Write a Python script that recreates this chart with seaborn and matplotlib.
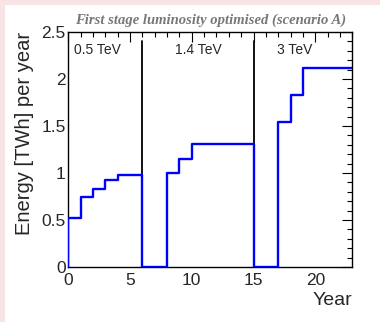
import matplotlib
matplotlib.use("Agg")
import matplotlib.pyplot as plt
import seaborn as sns
import pandas as pd
from matplotlib.ticker import MultipleLocator
from matplotlib.patches import Rectangle

# Data (step function, steps-post)
years = [0, 0, 1, 2, 3, 4, 5, 6, 7, 8, 9, 10, 11, 12, 13, 14, 15, 16, 17, 18, 19, 20, 21, 22, 23]
energy = [0.0, 0.52, 0.75, 0.83, 0.93, 0.98, 0.98, 0.0, 0.0, 1.00, 1.15, 1.31, 1.31, 1.31, 1.31, 1.31,
          0.0, 0.0, 1.54, 1.83, 2.12, 2.12, 2.12, 2.12, 2.12]
stage_bounds = [6, 15]
stage_labels = ["0.5 TeV", "1.4 TeV", "3 TeV"]
stage_label_x = [0.45, 8.65, 16.9]

df = pd.DataFrame({"Year": years, "Energy": energy})

sns.set_style("white")
plt.rcParams['font.family'] = ['Liberation Sans', 'DejaVu Sans']

fig = plt.figure(figsize=(3.8, 3.22), dpi=100)
fig.patch.set_facecolor("#f8e4e4")
fig.patches.append(Rectangle((5 / 380, 0), 1, 1 - 5 / 322, transform=fig.transFigure,
                             facecolor="white", edgecolor="none", zorder=-10))
ax = fig.add_axes([68.3 / 380, 1 - 267 / 322, (352.3 - 68.3) / 380, (267 - 32) / 322])

sns.lineplot(data=df, x="Year", y="Energy", drawstyle="steps-post", estimator=None, sort=False,
             color="#0000ff", linewidth=1.7, ax=ax, zorder=3)

for b in stage_bounds:
    ax.plot([b, b], [0, 2.4], color="black", linewidth=1.3, zorder=2)

for lx, lab in zip(stage_label_x, stage_labels):
    ax.text(lx, 2.31, lab, fontsize=10, ha="left", va="center")

ax.set_xlim(0, 23)
ax.set_ylim(0, 2.5)
ax.xaxis.set_major_locator(MultipleLocator(5))
ax.xaxis.set_minor_locator(MultipleLocator(1))
ax.yaxis.set_major_locator(MultipleLocator(0.5))
ax.yaxis.set_minor_locator(MultipleLocator(0.1))
ax.set_yticks([0, 0.5, 1, 1.5, 2, 2.5])
ax.set_yticklabels(["0", "0.5", "1", "1.5", "2", "2.5"])
ax.tick_params(which="both", direction="in", top=True, right=True, color="black", width=0.8)
ax.tick_params(which="major", length=7, labelsize=12.5)
ax.tick_params(axis="x", which="major", pad=4)
ax.tick_params(axis="y", which="major", pad=2)
ax.tick_params(which="minor", length=3.5)
ax.tick_params(axis="x", which="both", labeltop=False)
ax.tick_params(axis="y", which="both", labelright=False)
for s in ax.spines.values():
    s.set_color("black")
    s.set_linewidth(1.0)

ax.set_xlabel("Year", fontsize=14, loc="right", labelpad=3)
ax.set_ylabel("Energy [TWh] per year", fontsize=14.5, loc="top", labelpad=5)
ax.set_title("First stage luminosity optimised (scenario A)", fontsize=10.5, color="#777777",
             fontstyle="italic", fontweight="bold", family=["Liberation Serif", "DejaVu Serif"], pad=6)

fig.savefig("out.png", dpi=100, facecolor=fig.get_facecolor())
